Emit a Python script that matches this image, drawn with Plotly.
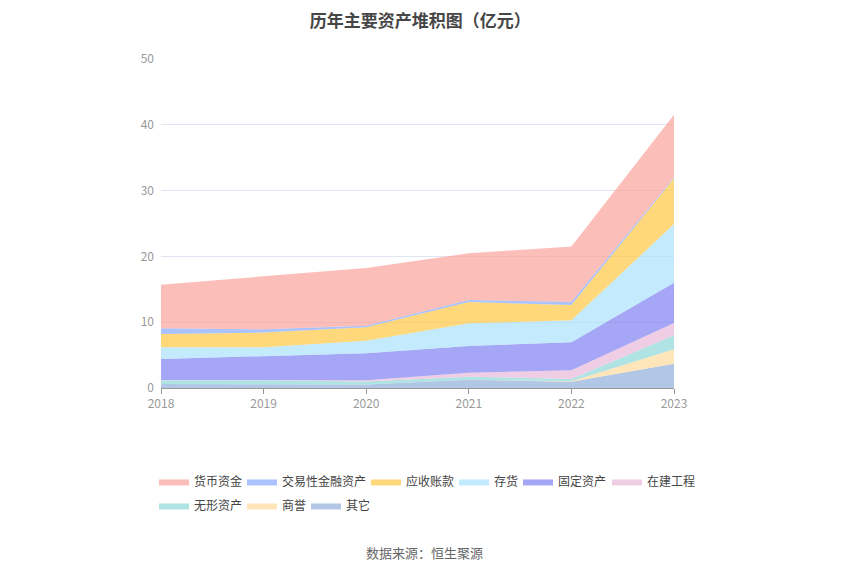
import plotly.graph_objects as go

years = [2018, 2019, 2020, 2021, 2022, 2023]

# stacked bottom -> top (亿元)
other = [0.60, 0.60, 0.55, 1.27, 0.96, 3.70]
goodwill = [0.00, 0.00, 0.00, 0.00, 0.05, 2.18]
intangible = [0.57, 0.57, 0.45, 0.45, 0.36, 2.12]
construction = [0.05, 0.05, 0.17, 0.61, 1.31, 1.88]
fixed_assets = [3.20, 3.60, 4.10, 4.05, 4.26, 6.12]
inventory = [1.77, 1.37, 1.92, 3.45, 3.34, 8.92]
receivables = [2.03, 2.23, 2.03, 3.24, 2.33, 6.94]
trading_assets = [0.86, 0.51, 0.25, 0.30, 0.50, 0.15]
cash = [6.63, 8.00, 8.77, 7.10, 8.40, 9.50]

# name, values, colour, legend swatch position (page px: left x, row)
series = [
    ("其它", other, (142, 173, 218), (312, 1)),
    ("商誉", goodwill, (255, 216, 153), (248, 1)),
    ("无形资产", intangible, (138, 214, 214), (160, 1)),
    ("在建工程", construction, (232, 183, 216), (613, 0)),
    ("固定资产", fixed_assets, (122, 124, 240), (524, 0)),
    ("存货", inventory, (166, 224, 252), (460, 0)),
    ("应收账款", receivables, (255, 197, 61), (372, 0)),
    ("交易性金融资产", trading_assets, (130, 166, 250), (248, 0)),
    ("货币资金", cash, (250, 159, 151), (160, 0)),
]

fig = go.Figure()
legends = {}
for i, (name, vals, rgb, pos) in enumerate(series):
    r, g, b = rgb
    leg = "legend" if i == 0 else "legend%d" % (i + 1)
    fig.add_trace(go.Scatter(
        x=years, y=vals, name=name,
        mode="lines", stackgroup="one",
        line=dict(width=0, color="rgb(%d,%d,%d)" % rgb),
        fillcolor="rgba(%d,%d,%d,0.68)" % (r, g, b),
        legend=leg, showlegend=True,
        hoverinfo="x+y+name",
    ))
    sx, row = pos
    legends[leg] = dict(
        visible=True, orientation="h", xanchor="left", yanchor="top",
        x=(sx - 14 - 153) / 513, y=-0.240 - 0.073 * row,
        font=dict(size=12, color="#444"), itemwidth=30,
        bgcolor="rgba(0,0,0,0)",
    )

fig.update_layout(
    width=850, height=575, showlegend=True,
    font=dict(family="Noto Sans CJK SC", size=12, color="#666"),
    paper_bgcolor="white", plot_bgcolor="white",
    margin=dict(l=153, r=184, t=51, b=195),
    title=dict(text="<b>历年主要资产堆积图（亿元）</b>", x=0.485, xanchor="center",
               y=0.977, yanchor="middle", font=dict(size=17, color="#464646")),
    xaxis=dict(
        range=[2018, 2023], tickvals=years, ticks="outside", ticklen=5,
        tickcolor="#999", showline=True, linecolor="#999", linewidth=1,
        showgrid=False, tickfont=dict(color="#999", size=12), zeroline=False,
    ),
    yaxis=dict(
        range=[0, 50], dtick=10, showgrid=True, gridcolor="#e0e6f1",
        showline=False, zeroline=False, tickfont=dict(color="#999", size=12),
        ticklabelstandoff=6,
    ),
    **legends,
)

fig.add_annotation(
    text="数据来源：恒生聚源", xref="paper", yref="paper",
    x=0.5146, y=-0.5015, xanchor="center", yanchor="middle", showarrow=False,
    font=dict(size=13, color="#666"),
)

fig.write_html("out.html")
